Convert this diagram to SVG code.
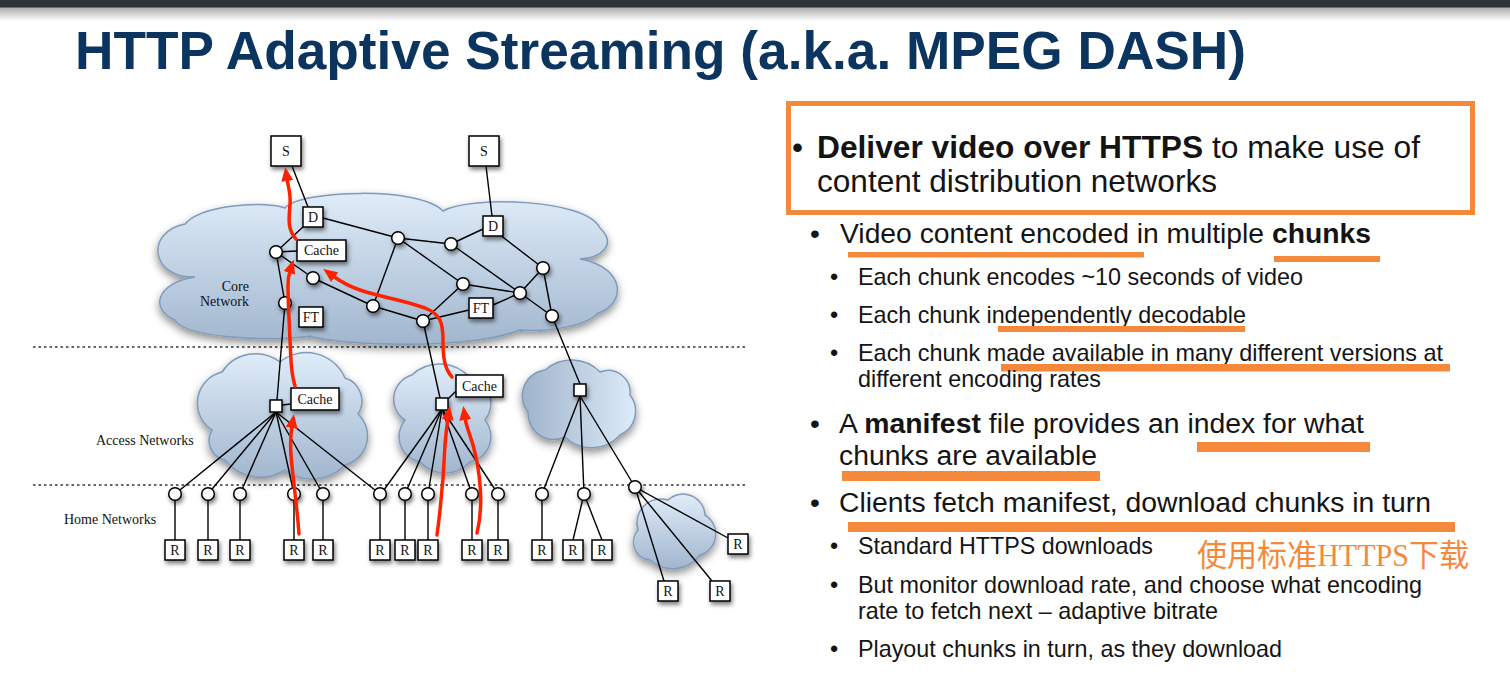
<svg xmlns="http://www.w3.org/2000/svg" width="1510" height="685" viewBox="0 0 1510 685">
  <defs>
    <linearGradient id="topShade" x1="0" y1="0" x2="0" y2="1">
      <stop offset="0" stop-color="#a8a8a8"/>
      <stop offset="1" stop-color="#ffffff"/>
    </linearGradient>
    <linearGradient id="cloudV" x1="0" y1="0" x2="0" y2="1">
      <stop offset="0" stop-color="#dfecf9"/>
      <stop offset="1" stop-color="#a1b6ce"/>
    </linearGradient>
    <linearGradient id="cloudH" x1="0" y1="0" x2="1" y2="0">
      <stop offset="0" stop-color="#9fb3cb"/>
      <stop offset="1" stop-color="#dcebf8"/>
    </linearGradient>
    <filter id="cloudShadow" x="-20%" y="-20%" width="140%" height="150%">
      <feDropShadow dx="0" dy="4" stdDeviation="4" flood-color="#000" flood-opacity="0.45"/>
    </filter>
    <filter id="nodeShadow" x="-50%" y="-50%" width="220%" height="220%">
      <feDropShadow dx="1.5" dy="3" stdDeviation="2" flood-color="#000" flood-opacity="0.5"/>
    </filter>
    <marker id="redHead" markerUnits="userSpaceOnUse" markerWidth="14" markerHeight="12" viewBox="0 0 14 12" refX="2" refY="6" orient="auto">
      <path d="M0,0 L14,6 L0,12 z" fill="#ff2200"/>
    </marker>
    <style>
      .cloud { stroke: #7f9bbb; stroke-width: 1.5; filter: url(#cloudShadow); }
      .link { stroke: #000; stroke-width: 1.4; fill: none; }
      .box { fill: #fff; stroke: #000; stroke-width: 1.5; filter: url(#nodeShadow); }
      .dot { fill: #fff; stroke: #000; stroke-width: 1.5; filter: url(#nodeShadow); }
      .lbl { font-family: "Liberation Serif", "Times New Roman", serif; font-size: 14px; fill: #111; text-anchor: middle; }
      .side { font-family: "Liberation Serif", "Times New Roman", serif; font-size: 14px; fill: #111; }
      .flow { stroke: #ff2200; stroke-width: 3.5; fill: none; stroke-linecap: round; marker-end: url(#redHead); }
      .dash { stroke: #333; stroke-width: 1.3; stroke-dasharray: 2.5 3; }
      .t { font-family: "Liberation Sans", Arial, sans-serif; fill: #141414; }
      .big { font-size: 31.5px; }
      .mid { font-size: 28.2px; }
      .sub { font-size: 23.4px; }
      .hl { fill: #f5893b; }
    </style>
  </defs>

  <!-- page background and header band -->
  <rect x="0" y="0" width="1510" height="685" fill="#ffffff"/>
  <rect x="0" y="7" width="1510" height="14" fill="url(#topShade)"/>
  <rect x="0" y="0" width="1510" height="7.5" fill="#2f3437"/>

  <text x="75" y="69" font-family="Liberation Sans, Arial, sans-serif" font-weight="bold" font-size="53" fill="#0b355f" textLength="1171" lengthAdjust="spacingAndGlyphs">HTTP Adaptive Streaming (a.k.a. MPEG DASH)</text>

  <!-- network layers -->
  <line class="dash" x1="33" y1="347" x2="746" y2="347"/>
  <line class="dash" x1="33" y1="485" x2="746" y2="485"/>

  <g id="core-cloud">
    <path class="cloud" fill="url(#cloudV)" d="M 195,277 C 150,278 145,232 185,224 C 200,206 260,200 285,208 C 300,190 420,186 443,211 C 470,196 585,198 600,228 C 618,245 600,258 580,259 C 628,268 625,305 598,313 C 585,328 540,332 520,330 C 470,350 340,346 310,336 C 270,342 185,338 175,320 C 150,310 155,283 195,277 Z"/>
  </g>
  <g id="access-cloud-1">
    <path class="cloud" fill="url(#cloudV)" d="M 212,430 A 32 32 0 0 1 222,372 A 40 40 0 0 1 280,362 A 42 42 0 0 1 345,378 A 24 24 0 0 1 358,414 A 30 30 0 0 1 345,465 A 45 45 0 0 1 285,470 A 45 45 0 0 1 225,460 A 20 20 0 0 1 212,430 Z"/>
  </g>
  <g id="access-cloud-2">
    <path class="cloud" fill="url(#cloudV)" d="M 405,420 A 25 25 0 0 1 412,375 A 40 40 0 0 1 470,378 A 26 26 0 0 1 485,420 A 26 26 0 0 1 470,462 A 34 34 0 0 1 420,462 A 26 26 0 0 1 405,420 Z"/>
  </g>
  <g id="access-cloud-3">
    <path class="cloud" fill="url(#cloudH)" d="M 528,412 A 26 26 0 0 1 545,370 A 40 40 0 0 1 600,372 A 22 22 0 0 1 630,395 A 26 26 0 0 1 620,435 A 38 38 0 0 1 565,437 A 26 26 0 0 1 528,412 Z"/>
  </g>
  <g id="home-cloud">
    <path class="cloud" fill="url(#cloudV)" d="M 638,530 A 24 24 0 0 1 668,500 A 22 22 0 0 1 705,515 A 22 22 0 0 1 700,555 A 34 34 0 0 1 650,560 A 18 18 0 0 1 638,530 Z"/>
  </g>

  <text class="side" x="249" y="291" text-anchor="end">Core</text>
  <text class="side" x="249" y="306" text-anchor="end">Network</text>
  <text class="side" x="96" y="445">Access Networks</text>
  <text class="side" x="64" y="524">Home Networks</text>

  <!-- links between routers, switches and hosts -->
  <g id="connectors">
    <line class="link" x1="292" y1="166" x2="308" y2="207"/>
    <line class="link" x1="304" y1="226" x2="276" y2="252"/>
    <line class="link" x1="276" y1="252" x2="297" y2="251"/>
    <line class="link" x1="323" y1="218" x2="398" y2="238"/>
    <line class="link" x1="276" y1="252" x2="313" y2="278"/>
    <line class="link" x1="276" y1="252" x2="285" y2="303"/>
    <line class="link" x1="313" y1="278" x2="373" y2="306"/>
    <line class="link" x1="373" y1="306" x2="423" y2="321"/>
    <line class="link" x1="398" y1="238" x2="373" y2="306"/>
    <line class="link" x1="398" y1="238" x2="451" y2="244"/>
    <line class="link" x1="398" y1="238" x2="463" y2="284"/>
    <line class="link" x1="451" y1="244" x2="483" y2="229"/>
    <line class="link" x1="451" y1="244" x2="520" y2="293"/>
    <line class="link" x1="500" y1="235" x2="543" y2="268"/>
    <line class="link" x1="543" y1="268" x2="520" y2="293"/>
    <line class="link" x1="543" y1="268" x2="552" y2="316"/>
    <line class="link" x1="520" y1="293" x2="552" y2="316"/>
    <line class="link" x1="463" y1="284" x2="520" y2="293"/>
    <line class="link" x1="463" y1="284" x2="423" y2="321"/>
    <line class="link" x1="423" y1="321" x2="469" y2="310"/>
    <line class="link" x1="493" y1="305" x2="520" y2="293"/>
    <line class="link" x1="486" y1="166" x2="492" y2="216"/>
    <!-- core to access -->
    <line class="link" x1="285" y1="303" x2="277" y2="400"/>
    <line class="link" x1="423" y1="321" x2="440" y2="398"/>
    <line class="link" x1="552" y1="316" x2="580" y2="384"/>
    <!-- switch to cache -->
    <line class="link" x1="282" y1="405" x2="291" y2="404"/>
    <line class="link" x1="448" y1="399" x2="456" y2="391"/>
    <!-- access switch 1 fan-out -->
    <line class="link" x1="276" y1="412" x2="175" y2="494"/>
    <line class="link" x1="276" y1="412" x2="208" y2="494"/>
    <line class="link" x1="276" y1="412" x2="240" y2="494"/>
    <line class="link" x1="276" y1="412" x2="294" y2="494"/>
    <line class="link" x1="276" y1="412" x2="323" y2="494"/>
    <line class="link" x1="276" y1="412" x2="380" y2="494"/>
    <!-- access switch 2 fan-out -->
    <line class="link" x1="442" y1="409" x2="381" y2="494"/>
    <line class="link" x1="442" y1="409" x2="405" y2="494"/>
    <line class="link" x1="442" y1="409" x2="428" y2="494"/>
    <line class="link" x1="442" y1="409" x2="472" y2="494"/>
    <line class="link" x1="442" y1="409" x2="498" y2="494"/>
    <!-- access switch 3 fan-out -->
    <line class="link" x1="580" y1="396" x2="542" y2="494"/>
    <line class="link" x1="580" y1="396" x2="584" y2="494"/>
    <line class="link" x1="580" y1="396" x2="635" y2="487"/>
    <!-- home gateways to hosts -->
    <line class="link" x1="175" y1="494" x2="175" y2="540"/>
    <line class="link" x1="208" y1="494" x2="208" y2="540"/>
    <line class="link" x1="240" y1="494" x2="240" y2="540"/>
    <line class="link" x1="294" y1="494" x2="294" y2="540"/>
    <line class="link" x1="323" y1="494" x2="323" y2="540"/>
    <line class="link" x1="380" y1="494" x2="380" y2="540"/>
    <line class="link" x1="405" y1="494" x2="405" y2="540"/>
    <line class="link" x1="428" y1="494" x2="428" y2="540"/>
    <line class="link" x1="472" y1="494" x2="472" y2="540"/>
    <line class="link" x1="498" y1="494" x2="498" y2="540"/>
    <line class="link" x1="542" y1="494" x2="542" y2="540"/>
    <line class="link" x1="584" y1="494" x2="573" y2="540"/>
    <line class="link" x1="584" y1="494" x2="602" y2="540"/>
    <line class="link" x1="635" y1="487" x2="728" y2="538"/>
    <line class="link" x1="635" y1="487" x2="664" y2="581"/>
    <line class="link" x1="635" y1="487" x2="712" y2="581"/>
  </g>

  <!-- routers -->
  <g id="core-routers">
    <circle class="dot" cx="276" cy="252" r="6.3"/>
    <circle class="dot" cx="313" cy="278" r="6.3"/>
    <circle class="dot" cx="285" cy="303" r="6.3"/>
    <circle class="dot" cx="398" cy="238" r="6.3"/>
    <circle class="dot" cx="451" cy="244" r="6.3"/>
    <circle class="dot" cx="543" cy="268" r="6.3"/>
    <circle class="dot" cx="463" cy="284" r="6.3"/>
    <circle class="dot" cx="520" cy="293" r="6.3"/>
    <circle class="dot" cx="423" cy="321" r="6.3"/>
    <circle class="dot" cx="552" cy="316" r="6.3"/>
    <circle class="dot" cx="373" cy="306" r="6.3"/>
  </g>
  <g id="home-gateways">
    <circle class="dot" cx="175" cy="494" r="6.3"/>
    <circle class="dot" cx="208" cy="494" r="6.3"/>
    <circle class="dot" cx="240" cy="494" r="6.3"/>
    <circle class="dot" cx="294" cy="494" r="6.3"/>
    <circle class="dot" cx="323" cy="494" r="6.3"/>
    <circle class="dot" cx="380" cy="494" r="6.3"/>
    <circle class="dot" cx="405" cy="494" r="6.3"/>
    <circle class="dot" cx="428" cy="494" r="6.3"/>
    <circle class="dot" cx="472" cy="494" r="6.3"/>
    <circle class="dot" cx="498" cy="494" r="6.3"/>
    <circle class="dot" cx="542" cy="494" r="6.3"/>
    <circle class="dot" cx="584" cy="494" r="6.3"/>
    <circle class="dot" cx="635" cy="487" r="6.3"/>
  </g>

  <g id="server-1"><rect class="box" x="271" y="136" width="30" height="30"/><text class="lbl" x="286" y="156">S</text></g>
  <g id="server-2"><rect class="box" x="469" y="136" width="30" height="30"/><text class="lbl" x="484" y="156">S</text></g>
  <g id="dist-1"><rect class="box" x="303" y="207" width="20" height="20"/><text class="lbl" x="313" y="222" font-size="15">D</text></g>
  <g id="dist-2"><rect class="box" x="483" y="216" width="20" height="20"/><text class="lbl" x="493" y="231" font-size="15">D</text></g>
  <g id="cache-core"><rect class="box" x="297" y="240" width="49" height="21"/><text class="lbl" x="321.5" y="255">Cache</text></g>
  <g id="ft-1"><rect class="box" x="299" y="307" width="24" height="20"/><text class="lbl" x="311" y="322">FT</text></g>
  <g id="ft-2"><rect class="box" x="469" y="298" width="24" height="20"/><text class="lbl" x="481" y="313">FT</text></g>
  <g id="switch-1"><rect class="box" x="270" y="400" width="12" height="12"/></g>
  <g id="switch-2"><rect class="box" x="436" y="398" width="12" height="12"/></g>
  <g id="switch-3"><rect class="box" x="574" y="384" width="12" height="12"/></g>
  <g id="cache-access-1"><rect class="box" x="291" y="388" width="48" height="22"/><text class="lbl" x="315" y="404">Cache</text></g>
  <g id="cache-access-2"><rect class="box" x="456" y="375" width="47" height="22"/><text class="lbl" x="479.5" y="391">Cache</text></g>

  <g id="hosts">
    <rect class="box" x="165" y="540" width="20" height="20"/><text class="lbl" x="175" y="555">R</text>
    <rect class="box" x="198" y="540" width="20" height="20"/><text class="lbl" x="208" y="555">R</text>
    <rect class="box" x="230" y="540" width="20" height="20"/><text class="lbl" x="240" y="555">R</text>
    <rect class="box" x="284" y="540" width="20" height="20"/><text class="lbl" x="294" y="555">R</text>
    <rect class="box" x="313" y="540" width="20" height="20"/><text class="lbl" x="323" y="555">R</text>
    <rect class="box" x="370" y="540" width="20" height="20"/><text class="lbl" x="380" y="555">R</text>
    <rect class="box" x="395" y="540" width="20" height="20"/><text class="lbl" x="405" y="555">R</text>
    <rect class="box" x="418" y="540" width="20" height="20"/><text class="lbl" x="428" y="555">R</text>
    <rect class="box" x="462" y="540" width="20" height="20"/><text class="lbl" x="472" y="555">R</text>
    <rect class="box" x="488" y="540" width="20" height="20"/><text class="lbl" x="498" y="555">R</text>
    <rect class="box" x="532" y="540" width="20" height="20"/><text class="lbl" x="542" y="555">R</text>
    <rect class="box" x="563" y="540" width="20" height="20"/><text class="lbl" x="573" y="555">R</text>
    <rect class="box" x="592" y="540" width="20" height="20"/><text class="lbl" x="602" y="555">R</text>
    <rect class="box" x="728" y="534" width="20" height="20"/><text class="lbl" x="738" y="549">R</text>
    <rect class="box" x="658" y="581" width="20" height="20"/><text class="lbl" x="668" y="596">R</text>
    <rect class="box" x="710" y="581" width="20" height="20"/><text class="lbl" x="720" y="596">R</text>
  </g>

  <!-- request paths -->
  <g id="request-paths">
    <path class="flow" d="M 296,239 C 287,229 289,218 290,205 C 291,193 288,186 287,179"/>
    <path class="flow" d="M 295,386 C 290,370 291,355 290,340 C 289,320 288,300 288,285 C 288,278 289,274 290,271"/>
    <path class="flow" d="M 299,534 C 297,505 293,480 291,455 C 290,440 291,432 292,426"/>
    <path class="flow" d="M 452,377 C 444,368 443,356 443,340 C 443,322 440,314 425,308 C 400,299 380,297 360,290 C 348,286 340,281 333,276"/>
    <path class="flow" d="M 437,535 C 441,505 444,470 445,445 C 446,432 447,425 448,418"/>
    <path class="flow" d="M 477,533 C 484,505 480,470 473,445 C 469,432 466,425 465,418"/>
  </g>

  <!-- bullet text -->
  <text class="t big" x="792" y="158">•</text>
  <text class="t big" x="817" y="158" textLength="603" lengthAdjust="spacingAndGlyphs"><tspan font-weight="bold">Deliver video over HTTPS</tspan> to make use of</text>
  <text class="t big" x="817" y="192" textLength="400" lengthAdjust="spacingAndGlyphs">content distribution networks</text>
  <rect x="788.5" y="103.5" width="684" height="109" fill="none" stroke="#f5893b" stroke-width="5"/>

  <text class="t mid" x="810" y="243">•</text>
  <text class="t mid" x="840" y="243" textLength="531" lengthAdjust="spacingAndGlyphs">Video content encoded in multiple <tspan font-weight="bold">chunks</tspan></text>
  <rect class="hl" x="848" y="252" width="296" height="5.5"/>
  <rect class="hl" x="1274" y="256" width="106" height="6"/>

  <text class="t sub" x="830" y="285">•</text>
  <text class="t sub" x="858" y="285" textLength="445" lengthAdjust="spacingAndGlyphs">Each chunk encodes ~10 seconds of video</text>
  <text class="t sub" x="830" y="323">•</text>
  <text class="t sub" x="858" y="323" textLength="388" lengthAdjust="spacingAndGlyphs">Each chunk independently decodable</text>
  <rect class="hl" x="998" y="326" width="247" height="6"/>
  <text class="t sub" x="830" y="361">•</text>
  <text class="t sub" x="858" y="361" textLength="585" lengthAdjust="spacingAndGlyphs">Each chunk made available in many different versions at</text>
  <rect class="hl" x="1001" y="364" width="449" height="7.5"/>
  <text class="t sub" x="858" y="387" textLength="243" lengthAdjust="spacingAndGlyphs">different encoding rates</text>

  <text class="t mid" x="810" y="433">•</text>
  <text class="t mid" x="839" y="433" textLength="525" lengthAdjust="spacingAndGlyphs">A <tspan font-weight="bold">manifest</tspan> file provides an index for what</text>
  <rect class="hl" x="1197" y="442" width="173" height="10"/>
  <text class="t mid" x="839" y="465" textLength="258" lengthAdjust="spacingAndGlyphs">chunks are available</text>
  <rect class="hl" x="842" y="471" width="258" height="10"/>

  <text class="t mid" x="810" y="512">•</text>
  <text class="t mid" x="839" y="512" textLength="592" lengthAdjust="spacingAndGlyphs">Clients fetch manifest, download chunks in turn</text>
  <rect class="hl" x="848" y="522" width="607" height="10"/>

  <text class="t sub" x="830" y="554">•</text>
  <text class="t sub" x="858" y="554" textLength="295" lengthAdjust="spacingAndGlyphs">Standard HTTPS downloads</text>
  <text x="1197" y="566" font-family="Liberation Serif, Noto Sans CJK SC, serif" font-size="31" fill="#f5893b" textLength="272" lengthAdjust="spacingAndGlyphs">使用标准HTTPS下载</text>
  <text class="t sub" x="830" y="593">•</text>
  <text class="t sub" x="858" y="593" textLength="564" lengthAdjust="spacingAndGlyphs">But monitor download rate, and choose what encoding</text>
  <text class="t sub" x="858" y="619" textLength="360" lengthAdjust="spacingAndGlyphs">rate to fetch next – adaptive bitrate</text>
  <text class="t sub" x="830" y="657">•</text>
  <text class="t sub" x="858" y="657" textLength="424" lengthAdjust="spacingAndGlyphs">Playout chunks in turn, as they download</text>
</svg>
